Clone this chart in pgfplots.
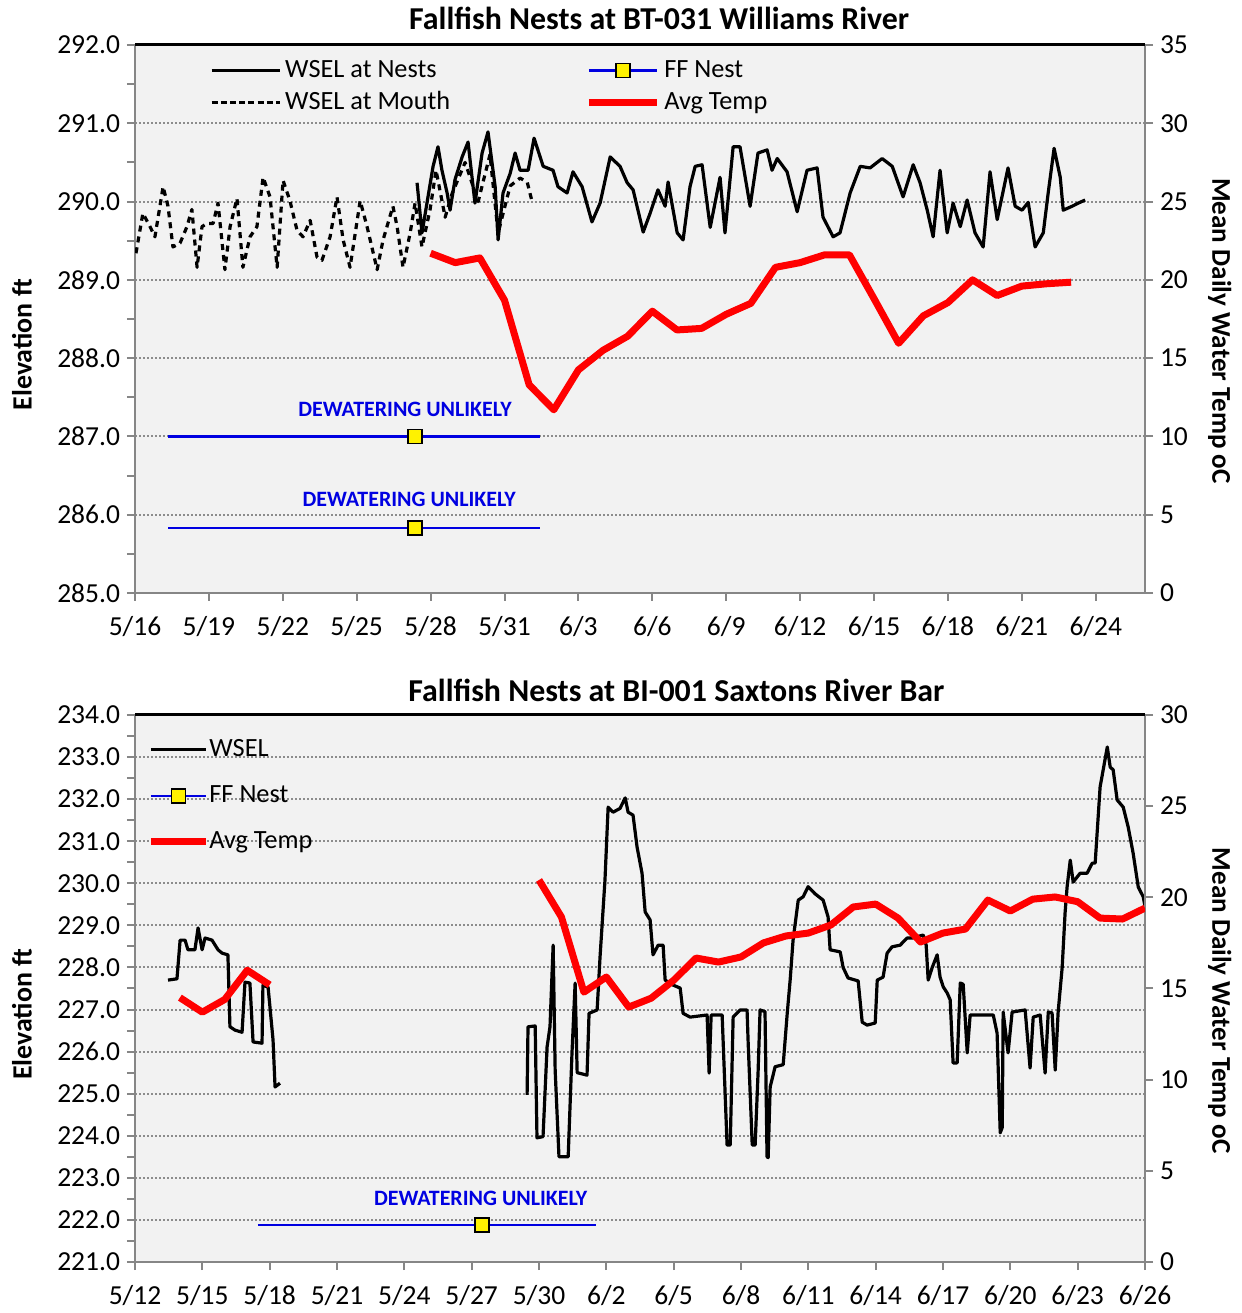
\documentclass[border=0pt]{standalone}
\usepackage{fontspec}
\setmainfont{Carlito}
\usepackage{pgfplots}
\pgfplotsset{compat=1.18}
\definecolor{plotbg}{RGB}{242,242,242}
\definecolor{axgray}{RGB}{134,134,134}
\definecolor{gridgray}{RGB}{140,140,140}
\definecolor{nestblue}{RGB}{0,0,225}

\tikzset{dewater/.style={text=nestblue, font=\bfseries\fontsize{11}{13}\selectfont}}

\pgfplotsset{
  panel/.style={
    scale only axis, width=505bp,
    clip mode=individual,
    axis line style={-, axgray, line width=1.2bp},
    tick style={axgray, line width=1bp},
    tick align=outside, major tick length=4bp, minor tick length=4bp,
    /pgf/number format/assume math mode=true,
    ticklabel style={font=\fontsize{13.8}{16}\selectfont},
    xticklabel shift=4bp,
  },
  leftax/.style={
    panel,
    axis background/.style={fill=plotbg},
    axis x line*=bottom, axis y line*=left,
    yticklabel style={/pgf/number format/.cd, fixed, fixed zerofill, precision=1},
    ymajorgrids,
    major grid style={gridgray, dash pattern=on 1bp off 1bp, line width=1bp},
    ylabel style={font=\bfseries\fontsize{14}{16}\selectfont,
      at={(axis description cs:-0.112,0.453)}, anchor=center},
    title style={font=\bfseries\fontsize{16}{19}\selectfont, anchor=center},
    legend style={draw=none, fill=none, font=\fontsize{13.2}{15.5}\selectfont},
    legend cell align=left,
  },
  rightax/.style={
    panel,
    axis x line=none, axis y line*=right,
    ylabel style={font=\bfseries\fontsize{13.6}{16}\selectfont,
      at={(axis description cs:1.074,0.478)}, anchor=center, rotate=180},
  },
  wsel/.style={black, line width=1.6bp, line join=round},
  temp/.style={red, line width=3.5bp, line join=round},
  nest/.style={nestblue, line width=1.2bp, mark=square*, mark size=3.5bp, mark indices={2},
    mark options={fill=yellow, draw=black, line width=0.8bp, solid}},
}

\begin{document}
\begin{tikzpicture}
\path[use as bounding box] (0,0) rectangle (621bp,656.5bp);

% ---------------- top panel: BT-031 Williams River
\begin{axis}[leftax, height=274bp, at={(67.5bp,360bp)}, anchor=south west,
  xmin=16, xmax=57, ymin=285, ymax=292,
  xtick={16,19,...,55},
  xticklabels={5/16,5/19,5/22,5/25,5/28,5/31,6/3,6/6,6/9,6/12,6/15,6/18,6/21,6/24},
  ytick={285,...,292}, minor ytick={285.5,286.5,...,291.5},
  ylabel={Elevation ft},
  title={Fallfish Nests at BT-031 Williams River},
  title style={at={(axis description cs:0.519,1.027)}},
  legend columns=2,
  legend style={at={(0.068,0.987)}, anchor=north west, row sep=1.5bp,
    /tikz/every even column/.append style={column sep=65.5bp}},
  legend image code/.code={\draw[#1] (0bp,0bp) -- (34bp,0bp);},
]
\addlegendimage{wsel}
\addlegendentry{WSEL at Nests}
\addlegendimage{legend image code/.code={
  \draw[nestblue, line width=1.2bp] (0bp,0bp) -- (34bp,0bp);
  \draw[black, fill=yellow, line width=0.8bp] (13.5bp,-3.5bp) rectangle (20.5bp,3.5bp);}}
\addlegendentry{FF Nest}
\addlegendimage{black, line width=1.6bp, dash pattern=on 3bp off 1.6bp}
\addlegendentry{WSEL at Mouth}
\addlegendimage{temp}
\addlegendentry{Avg Temp}

% WSEL at Mouth
\addplot[wsel, dash pattern=on 3bp off 2.5bp, forget plot] coordinates {
(16.04,289.34) (16.32,289.85) (16.61,289.68) (16.81,289.55) (17.14,290.19)
(17.34,289.94) (17.54,289.42) (17.83,289.47) (18.11,289.68) (18.31,289.90)
(18.52,289.16) (18.72,289.68) (18.92,289.72) (19.17,289.72) (19.37,289.98)
(19.65,289.13) (19.86,289.68) (20.14,290.04) (20.38,289.16) (20.67,289.55)
(20.95,289.68) (21.20,290.31) (21.48,290.06) (21.77,289.16) (22.01,290.27)
(22.29,290.01) (22.58,289.63) (22.82,289.55) (23.11,289.76) (23.39,289.29)
(23.59,289.25) (23.92,289.55) (24.20,290.06) (24.45,289.51) (24.73,289.16)
(25.14,290.01) (25.42,289.68) (25.83,289.13) (26.07,289.51) (26.47,289.94)
(26.64,289.68) (26.88,289.16) (27.17,289.60) (27.37,289.98) (27.65,289.42)
(27.98,289.90) (28.22,290.40) (28.59,289.80) (28.87,290.10) (29.40,290.50)
(29.93,290.00) (30.41,290.60) (30.74,289.60) (31.23,290.20) (31.63,290.30)
(31.92,290.25) (32.12,290.00)
};
% WSEL at Nests
\addplot[wsel, forget plot] coordinates {
(27.45,290.24) (27.65,289.60) (28.10,290.45) (28.30,290.70) (28.46,290.40)
(28.67,290.11) (28.79,289.89) (28.99,290.28) (29.28,290.57) (29.52,290.76)
(29.80,289.98) (30.09,290.62) (30.33,290.89) (30.62,290.19) (30.74,289.51)
(30.94,290.11) (31.23,290.36) (31.43,290.62) (31.63,290.40) (31.96,290.40)
(32.20,290.81) (32.57,290.45) (32.97,290.40) (33.17,290.19) (33.54,290.11)
(33.78,290.38) (34.15,290.19) (34.55,289.74) (34.88,289.98) (35.29,290.57)
(35.69,290.45) (35.98,290.24) (36.22,290.15) (36.63,289.61) (36.91,289.85)
(37.23,290.15) (37.52,289.94) (37.64,290.25) (38.01,289.60) (38.25,289.51)
(38.53,290.19) (38.74,290.45) (39.02,290.47) (39.35,289.67) (39.75,290.31)
(39.95,289.60) (40.28,290.70) (40.56,290.70) (40.97,289.94) (41.29,290.62)
(41.66,290.66) (41.86,290.40) (42.07,290.55) (42.47,290.38) (42.88,289.87)
(43.28,290.40) (43.69,290.43) (43.93,289.80) (44.34,289.55) (44.62,289.60)
(45.03,290.11) (45.44,290.45) (45.84,290.43) (46.33,290.55) (46.74,290.45)
(47.18,290.06) (47.59,290.47) (47.87,290.24) (48.16,289.89) (48.40,289.55)
(48.68,290.40) (48.97,289.60) (49.21,289.98) (49.50,289.68) (49.78,290.02)
(50.10,289.60) (50.43,289.42) (50.71,290.38) (51.00,289.77) (51.44,290.43)
(51.73,289.94) (52.01,289.89) (52.26,289.99) (52.54,289.42) (52.87,289.60)
(53.07,290.11) (53.31,290.68) (53.56,290.31) (53.68,289.89) (54.04,289.94)
(54.29,289.98) (54.57,290.02)
};
% FF nests
\addplot[nest, forget plot] coordinates {(17.34,287.0) (27.37,287.0) (32.44,287.0)};
\addplot[nest, forget plot] coordinates {(17.34,285.83) (27.37,285.83) (32.44,285.83)};
\node[dewater] at (axis cs:26.96,287.34) {DEWATERING UNLIKELY};
\node[dewater] at (axis cs:27.13,286.19) {DEWATERING UNLIKELY};
\end{axis}

\begin{axis}[rightax, height=274bp, at={(67.5bp,360bp)}, anchor=south west,
  xmin=16, xmax=57, ymin=0, ymax=35, ytick={0,5,...,35},
  ylabel={Mean Daily Water Temp oC},
]
\addplot[temp] coordinates {
(28,21.7) (29,21.1) (30,21.4) (31,18.7) (32,13.3) (33,11.7) (34,14.25)
(35,15.5) (36,16.4) (37,18.0) (38,16.8) (39,16.9) (40,17.8) (41,18.5)
(42,20.8) (43,21.1) (44,21.6) (45,21.6) (46,18.8) (47,15.95) (48,17.7)
(49,18.55) (50,20.0) (51,19.0) (52,19.6) (53,19.75) (54,19.85)
};
\draw[black, line width=1.5bp] (rel axis cs:0,1) -- (rel axis cs:1,1);
\end{axis}

% ---------------- bottom panel: BI-001 Saxtons River Bar
\begin{axis}[leftax, height=273.5bp, at={(67.5bp,25.5bp)}, anchor=south west,
  xmin=12, xmax=57, ymin=221, ymax=234,
  xtick={12,15,...,57},
  xticklabels={5/12,5/15,5/18,5/21,5/24,5/27,5/30,6/2,6/5,6/8,6/11,6/14,6/17,6/20,6/23,6/26},
  ytick={221,...,234}, minor ytick={221.5,222.5,...,233.5},
  ylabel={Elevation ft},
  title={Fallfish Nests at BI-001 Saxtons River Bar},
  title style={at={(axis description cs:0.536,1.024)}},
  legend columns=1,
  legend style={at={(0.006,0.97)}, anchor=north west, row sep=9bp,
    /tikz/every odd column/.append style={column sep=-2bp}},
  legend image code/.code={\draw[#1] (0bp,0bp) -- (27.5bp,0bp);},
]
\addlegendimage{wsel}
\addlegendentry{WSEL}
\addlegendimage{legend image code/.code={
  \draw[nestblue, line width=1.2bp] (0bp,0bp) -- (27.5bp,0bp);
  \draw[black, fill=yellow, line width=0.8bp] (10.25bp,-3.5bp) rectangle (17.25bp,3.5bp);}}
\addlegendentry{FF Nest}
\addlegendimage{temp}
\addlegendentry{Avg Temp}

\addplot[wsel, forget plot] coordinates {
(13.47,227.70) (13.87,227.73) (14.01,228.65) (14.23,228.65) (14.36,228.42)
(14.67,228.42) (14.81,228.94) (14.99,228.42) (15.12,228.70) (15.43,228.65)
(15.70,228.42) (15.88,228.34) (16.14,228.30) (16.23,226.59) (16.46,226.51)
(16.77,226.46) (16.90,227.65) (17.12,227.63) (17.26,226.23) (17.66,226.20)
(17.70,227.58) (17.93,227.53) (18.15,226.28) (18.24,225.16) (18.46,225.25)
};
\addplot[wsel, forget plot] coordinates {
(29.47,224.97) (29.51,226.59) (29.83,226.61) (29.91,223.95) (30.18,223.98)
(30.36,226.11) (30.49,226.59) (30.63,228.53) (30.72,225.56) (30.89,223.50)
(31.30,223.50) (31.47,225.97) (31.61,227.63) (31.70,225.50) (32.14,225.44)
(32.23,226.91) (32.59,226.99) (32.72,228.25) (32.94,230.08) (33.08,231.81)
(33.30,231.69) (33.61,231.78) (33.84,232.03) (33.97,231.69) (34.19,231.62)
(34.37,230.86) (34.59,230.24) (34.73,229.32) (34.95,229.13) (35.08,228.30)
(35.31,228.53) (35.53,228.53) (35.62,227.70) (35.98,227.58) (36.29,227.51)
(36.42,226.91) (36.73,226.82) (37.49,226.87) (37.58,225.49) (37.67,226.87)
(38.16,226.87) (38.38,223.78) (38.52,223.78) (38.65,226.82) (38.96,226.99)
(39.27,226.99) (39.32,226.20) (39.50,223.78) (39.63,223.78) (39.76,225.49)
(39.85,226.99) (40.07,226.95) (40.16,223.50) (40.21,223.48) (40.30,225.16)
(40.52,225.64) (40.88,225.69) (41.06,226.91) (41.19,227.70) (41.32,228.65)
(41.55,229.60) (41.77,229.68) (41.99,229.92) (42.30,229.75) (42.66,229.60)
(42.88,229.20) (42.97,228.42) (43.42,228.37) (43.55,228.00) (43.77,227.75)
(44.22,227.68) (44.40,226.70) (44.62,226.63) (44.98,226.68) (45.07,227.70)
(45.33,227.77) (45.51,228.34) (45.73,228.49) (46.09,228.53) (46.40,228.70)
(46.63,228.70) (47.12,228.77) (47.25,228.53) (47.34,227.70) (47.52,228.00)
(47.74,228.30) (47.87,227.77) (48.01,227.54) (48.19,227.39) (48.32,227.23)
(48.45,225.73) (48.63,225.73) (48.77,227.63) (48.90,227.60) (49.08,225.97)
(49.21,226.87) (50.24,226.87) (50.41,226.44) (50.55,224.07) (50.64,224.20)
(50.68,226.94) (50.90,225.97) (51.08,226.94) (51.66,226.99) (51.88,225.61)
(52.02,226.82) (52.33,226.87) (52.55,225.49) (52.69,226.94) (52.86,226.92)
(53.00,225.56) (53.13,226.94) (53.31,228.00) (53.44,229.30) (53.53,229.92)
(53.67,230.55) (53.80,230.03) (54.11,230.24) (54.42,230.24) (54.65,230.48)
(54.78,230.48) (55.00,232.29) (55.32,233.24) (55.45,232.76) (55.58,232.70)
(55.76,231.98) (56.03,231.81) (56.25,231.34) (56.47,230.72) (56.70,229.91)
(56.92,229.68) (57.00,229.45)
};
\addplot[nest, forget plot] coordinates {(17.48,221.88) (27.46,221.88) (32.54,221.88)};
\node[dewater] at (axis cs:27.4,222.52) {DEWATERING UNLIKELY};
\end{axis}

\begin{axis}[rightax, height=273.5bp, at={(67.5bp,25.5bp)}, anchor=south west,
  xmin=12, xmax=57, ymin=0, ymax=30, ytick={0,5,...,30},
  ylabel={Mean Daily Water Temp oC},
]
\addplot[temp] coordinates {
(14,14.5) (15,13.7) (16,14.4) (17,16.0) (18,15.2)
};
\addplot[temp] coordinates {
(30,20.95) (31,18.92) (32,14.8) (33,15.63) (34,13.98) (35,14.47) (36,15.45)
(37,16.67) (38,16.45) (39,16.73) (40,17.5) (41,17.88) (42,18.04) (43,18.48)
(44,19.47) (45,19.63) (46,18.86) (47,17.55) (48,18.04) (49,18.26) (50,19.85)
(51,19.25) (52,19.9) (53,20.02) (54,19.76) (55,18.86) (56,18.81) (57,19.41)
};
\draw[black, line width=1.5bp] (rel axis cs:0,1) -- (rel axis cs:1,1);
\end{axis}
\end{tikzpicture}
\end{document}
